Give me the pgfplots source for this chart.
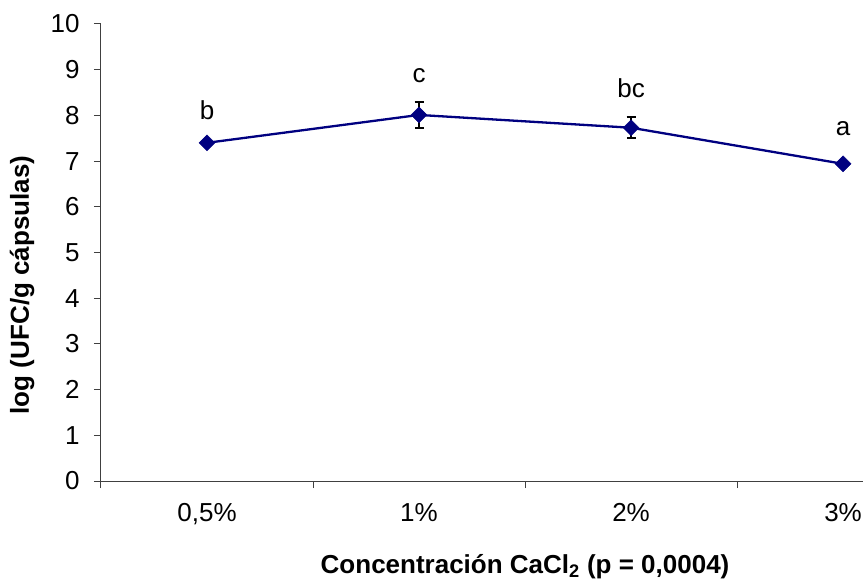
\documentclass[border=0pt]{standalone}
\usepackage{fontspec}
\setmainfont{Liberation Sans}
\usepackage{pgfplots}
\usepackage{pgfplotstable}
\pgfplotsset{compat=1.18}
\definecolor{navy}{RGB}{0,0,128}
\pgfplotstableread{
x y err ly lab
0 7.40 0    7.92 b
1 8.01 0.285 8.71 c
2 7.73 0.23 8.40 bc
3 6.94 0    7.57 a
}\datatable
\begin{document}
\begin{tikzpicture}
\begin{axis}[
  scale only axis, width=762pt, height=457pt,
  xmin=-0.5, xmax=3.094, ymin=0, ymax=10,
  axis lines=left,
  axis line style={-, draw=black!75, line width=1pt},
  tick style={draw=black!75, line width=1pt},
  tick align=outside,
  major tick length=7pt,
  ytick={0,1,...,10},
  xtick={-0.5,0.5,1.5,2.5},
  xticklabels={},
  extra x ticks={0,1,2,3},
  extra x tick labels={{0,5\%},{1\%},{2\%},{3\%}},
  extra x tick style={major tick length=0pt, xticklabel style={yshift=-19pt}},
  /pgf/number format/assume math mode=true,
  ticklabel style={font=\fontsize{26}{31}\selectfont},
  yticklabel style={xshift=-11pt},
  xlabel={\textbf{Concentración CaCl\textsubscript{2} (p = 0,0004)}},
  ylabel={\textbf{log (UFC/g cápsulas)}},
  label style={font=\fontsize{26}{31}\selectfont},
  xlabel style={at={(axis description cs:0.5565,0)}, anchor=center, yshift=-86pt},
  ylabel style={at={(axis description cs:0,0.429)}, anchor=center, yshift=79pt},
  clip=false,
]
\coordinate (o) at (rel axis cs:0,0);
\addplot[navy, line width=2.3pt, mark=square*, mark size=5.6pt,
  mark options={fill=navy, draw=navy, line width=0.5pt, rotate=45},
  error bars/.cd, y dir=both, y explicit,
  error bar style={black, line width=1.5pt},
  error mark options={rotate=90, mark size=4.5pt, black, line width=1.5pt}]
  table[x=x, y=y, y error=err] {\datatable};
\addplot[draw=none, mark=none,
  nodes near coords, point meta=explicit symbolic,
  every node near coord/.append style={anchor=base, inner sep=0pt, font=\fontsize{26}{31}\selectfont, text=black}]
  table[x=x, y=ly, meta=lab] {\datatable};
\end{axis}
\pgfresetboundingbox
\path (o) ++(-101pt,-102pt) rectangle ++(864pt,583pt);
\end{tikzpicture}
\end{document}
